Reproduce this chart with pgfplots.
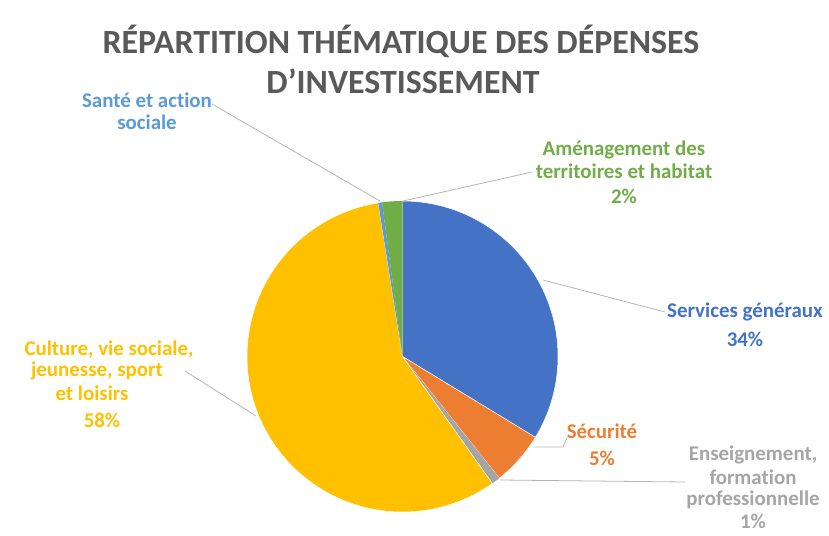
\documentclass[border=0pt]{standalone}
\usepackage{fontspec}
\setmainfont[Ligatures=NoCommon]{Carlito}
\usepackage{pgfplots}
\usepackage{pgfplotstable}
\pgfplotsset{compat=1.18}

\definecolor{cServ}{HTML}{4472C4}
\definecolor{cSecu}{HTML}{ED7D31}
\definecolor{cEns}{HTML}{A5A5A5}
\definecolor{cCult}{HTML}{FFC000}
\definecolor{cSante}{HTML}{5B9BD5}
\definecolor{cAmen}{HTML}{70AD47}
\definecolor{cTitle}{HTML}{595959}
\definecolor{cLead}{HTML}{B4B4B4}

% shares of the investment spending, in percent, clockwise from 12 o'clock
\pgfplotstableread{
name pct
Services 33.7
Securite 5.6
Enseignement 0.9
Culture 57.3
Sante 0.4
Amenagement 2.1
}\piedata

\pgfplotstablegetelem{0}{pct}\of\piedata \let\pA\pgfplotsretval
\pgfplotstablegetelem{1}{pct}\of\piedata \let\pB\pgfplotsretval
\pgfplotstablegetelem{2}{pct}\of\piedata \let\pC\pgfplotsretval
\pgfplotstablegetelem{3}{pct}\of\piedata \let\pD\pgfplotsretval
\pgfplotstablegetelem{4}{pct}\of\piedata \let\pE\pgfplotsretval
\pgfplotstablegetelem{5}{pct}\of\piedata \let\pF\pgfplotsretval
\pgfmathsetmacro\aO{90}
\pgfmathsetmacro\aA{90-3.6*(\pA)}
\pgfmathsetmacro\aB{\aA-3.6*(\pB)}
\pgfmathsetmacro\aC{\aB-3.6*(\pC)}
\pgfmathsetmacro\aD{\aC-3.6*(\pD)}
\pgfmathsetmacro\aE{\aD-3.6*(\pE)}
\pgfmathsetmacro\aF{\aE-3.6*(\pF)}

\newcommand{\cx}{402.5}
\newcommand{\cy}{356.5}
\newcommand{\rr}{155.5}

\begin{document}
\begin{tikzpicture}
\begin{axis}[
  scale only axis, width=829bp, height=536bp,
  xmin=0, xmax=829, ymin=0, ymax=536, y dir=reverse,
  hide axis, clip=false,
  every node/.style={inner sep=0pt, text depth=0pt},
]
\path (axis cs:0,0) rectangle (axis cs:829,536);
\addplot[fill=cServ, draw=white, line width=0.5pt, domain=\aA:\aO, samples=80, variable=\t]
  ({\cx+\rr*cos(\t)},{\cy-\rr*sin(\t)}) -- (axis cs:\cx,\cy) -- cycle;
\addplot[fill=cSecu, draw=white, line width=0.5pt, domain=\aB:\aA, samples=30, variable=\t]
  ({\cx+\rr*cos(\t)},{\cy-\rr*sin(\t)}) -- (axis cs:\cx,\cy) -- cycle;
\addplot[fill=cEns, draw=none, domain=\aC:\aB, samples=10, variable=\t]
  ({\cx+\rr*cos(\t)},{\cy-\rr*sin(\t)}) -- (axis cs:\cx,\cy) -- cycle;
\addplot[fill=cCult, draw=white, line width=0.5pt, domain=\aD:\aC, samples=120, variable=\t]
  ({\cx+\rr*cos(\t)},{\cy-\rr*sin(\t)}) -- (axis cs:\cx,\cy) -- cycle;
\addplot[fill=cSante, draw=none, domain=\aE:\aD, samples=10, variable=\t]
  ({\cx+\rr*cos(\t)},{\cy-\rr*sin(\t)}) -- (axis cs:\cx,\cy) -- cycle;
\addplot[fill=cAmen, draw=none, domain=\aF:\aE, samples=10, variable=\t]
  ({\cx+\rr*cos(\t)},{\cy-\rr*sin(\t)}) -- (axis cs:\cx,\cy) -- cycle;

% leader lines
\addplot[cLead, line width=0.8pt, no markers] coordinates {(212,104) (380,201)};
\addplot[cLead, line width=0.8pt, no markers] coordinates {(403,201) (532,172)};
\addplot[cLead, line width=0.8pt, no markers] coordinates {(543,280) (665,312)};
\addplot[cLead, line width=0.8pt, no markers] coordinates {(535,447) (563,447) (567,438)};
\addplot[cLead, line width=0.8pt, no markers] coordinates {(500,480) (685,482)};
\addplot[cLead, line width=0.8pt, no markers] coordinates {(185,371) (256,416)};

% title
\node[font=\fontsize{34}{38}\selectfont\bfseries, text=cTitle, text height=22bp] at (axis cs:401,45) {RÉPARTITION THÉMATIQUE DES DÉPENSES};
\node[font=\fontsize{34}{38}\selectfont\bfseries, text=cTitle, text height=22bp] at (axis cs:403,83) {D’INVESTISSEMENT};

% labels
\tikzset{lab/.style={font=\fontsize{21}{24}\selectfont\bfseries, text height=13.5bp}}
\node[lab, text=cSante] at (axis cs:147,101) {Santé et action};
\node[lab, text=cSante] at (axis cs:147,123) {sociale};

\node[lab, text=cAmen] at (axis cs:624,151) {Aménagement des};
\node[lab, text=cAmen] at (axis cs:624,172) {territoires et habitat};
\node[lab, text=cAmen] at (axis cs:624,197) {2\%};

\node[lab, text=cServ] at (axis cs:745,313) {Services généraux};
\node[lab, text=cServ] at (axis cs:745,340) {34\%};

\node[lab, text=cSecu] at (axis cs:602,432) {Sécurité};
\node[lab, text=cSecu] at (axis cs:602,459) {5\%};

\node[lab, text=cEns] at (axis cs:753,456) {Enseignement,};
\node[lab, text=cEns] at (axis cs:753,478) {formation};
\node[lab, text=cEns] at (axis cs:753,500) {professionnelle};
\node[lab, text=cEns] at (axis cs:753,522) {1\%};

\node[lab, text=cCult] at (axis cs:109,350) {Culture, vie sociale,};
\node[lab, text=cCult] at (axis cs:97,372) {jeunesse, sport};
\node[lab, text=cCult] at (axis cs:92,394) {et loisirs};
\node[lab, text=cCult] at (axis cs:102,421) {58\%};
\end{axis}
\end{tikzpicture}
\end{document}
